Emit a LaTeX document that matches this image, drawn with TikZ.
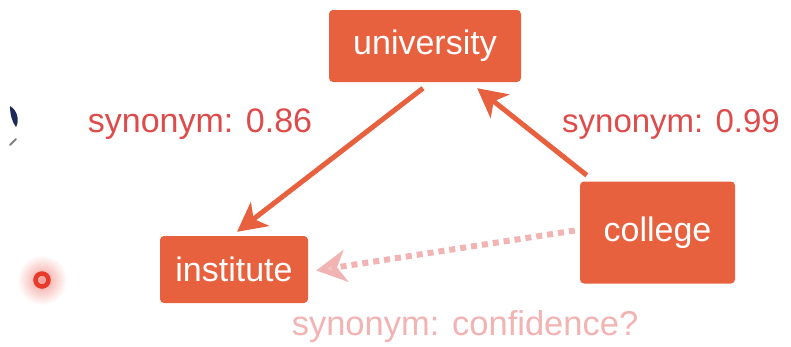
\documentclass[tikz,border=0pt]{standalone}
\usepackage{fontspec}
\setmainfont{Liberation Sans}
\usetikzlibrary{arrows.meta}

\definecolor{boxfill}{HTML}{E8613F}
\definecolor{labelred}{HTML}{DE4B4B}
\definecolor{softpink}{HTML}{F2B3B3}
\definecolor{dotred}{HTML}{E8392B}
\definecolor{navy}{HTML}{1C2A5C}

\tikzset{
  termbox/.style={draw=none, fill=boxfill, rounded corners=4pt, text=white,
    inner sep=0pt, font=\fontsize{34}{40}\selectfont},
  relarrow/.style={draw=boxfill, line width=5pt,
    -{Stealth[length=29pt, width=30pt, inset=8pt]}},
  guessarrow/.style={draw=softpink, line width=6pt, dash pattern=on 6pt off 5pt,
    -{Stealth[length=30pt, width=32pt, inset=9pt, fill=softpink!75!white]}},
  rellabel/.style={text=labelred, anchor=base, inner sep=0pt},
  guesslabel/.style={text=softpink, anchor=base, inner sep=0pt,
    font=\fontsize{34.5}{40}\selectfont}
}

\begin{document}
\begin{tikzpicture}[x=1pt, y=-1pt]
  \useasboundingbox[fill=white] (0,0) rectangle (791,346);

  % the three terms
  \node[termbox, minimum width=192pt, minimum height=72pt] (university) at (425,46) {university};
  \node[termbox, minimum width=148pt, minimum height=67pt] (institute) at (234,269.5) {institute};
  \node[termbox, minimum width=155pt, minimum height=102pt] (college) at (657.5,232.5) {college};

  % known synonym links
  \draw[relarrow] ([xshift=-2pt, yshift=-6pt]university.south)
    -- ([xshift=3pt, yshift=4pt]institute.north);
  \draw[relarrow] ([xshift=7pt, yshift=6pt]college.north west)
    -- ([xshift=-44pt, yshift=-6pt]university.south east);

  % inferred link
  \draw[guessarrow] ([xshift=-5pt, yshift=2pt]college.west)
    -- ([xshift=8pt, yshift=-1pt]institute.east);

  % link labels
  \node[rellabel, font=\fontsize{34}{40}\selectfont] (lab86) at (200,132) {synonym: 0.86};
  \node[rellabel, font=\fontsize{33}{40}\selectfont] (lab99) at (671,132) {synonym: 0.99};
  \node[guesslabel] (labq) at (465,335) {synonym: confidence?};

  % pointer marks near the left edge
  \shade[inner color=dotred!50, outer color=white] (42,280) circle (25pt);
  \draw[dotred, line width=4.5pt] (42,280) circle (6.5pt);
  \fill[navy] (10,106) .. controls (17,110) and (20,120) .. (16,127)
    .. controls (12,122) and (10,114) .. (10,106) -- cycle;
  \draw[gray, line width=2pt, line cap=round] (10,145) -- (16,139);
\end{tikzpicture}
\end{document}
